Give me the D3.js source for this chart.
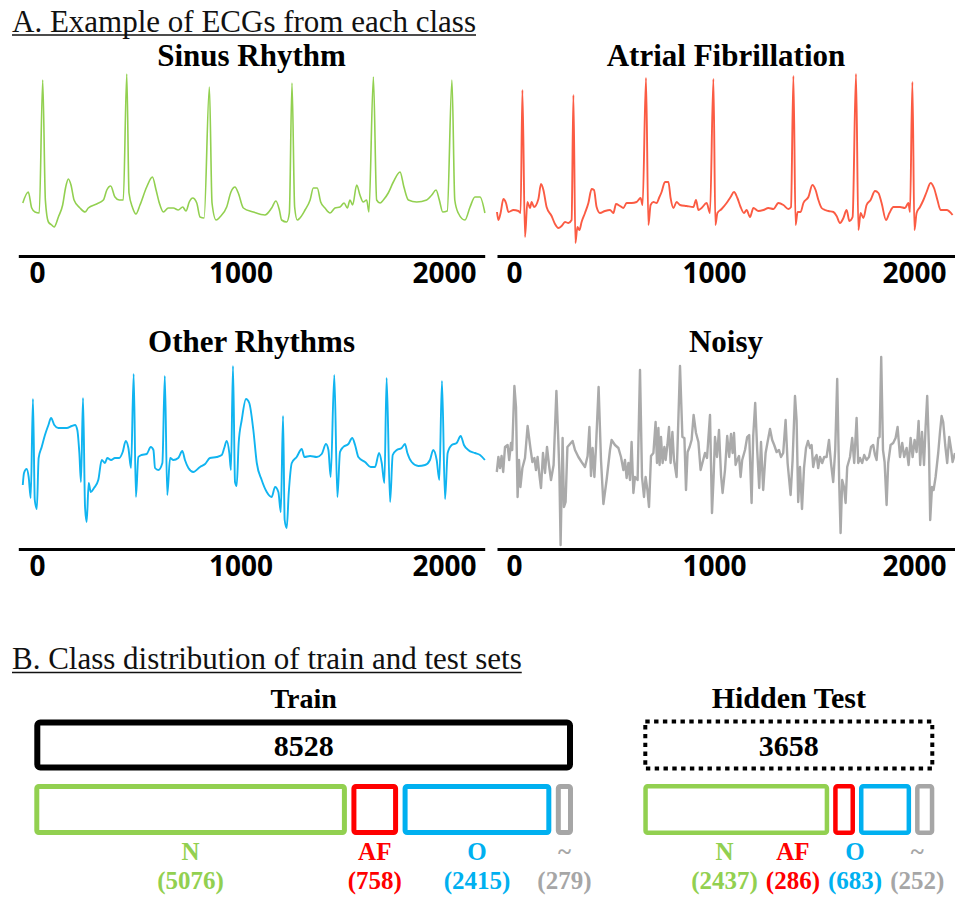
<!DOCTYPE html>
<html>
<head>
<meta charset="utf-8">
<script src="https://cdn.jsdelivr.net/npm/d3@7"></script>
<style>
  body { margin: 0; background: #fff; }
  svg { display: block; }
</style>
</head>
<body>
<svg id="chart" width="955" height="901"></svg>
<script>
// ECG example traces: [sample index, amplitude]
const sinusData = [[-70,2],[-43,13],[-26,-3],[-10,-7],[11,-8],[28,125],[41,5],[56,-17],[72,-20],[84,-22],[105,-12],[126,0],[141,18],[154,26],[167,20],[182,5],[211,-3],[236,-7],[252,-3],[293,1],[326,5],[343,15],[362,19],[383,8],[404,5],[424,5],[441,131],[452,12],[470,-3],[486,-9],[506,0],[539,18],[567,28],[585,15],[601,2],[621,-7],[645,-3],[670,-3],[694,-5],[716,-2],[732,-6],[748,3],[765,7],[785,2],[801,-12],[821,-13],[847,118],[860,2],[880,-15],[899,-12],[932,-2],[953,13],[973,18],[989,12],[1014,-3],[1063,-7],[1120,-10],[1153,-3],[1174,4],[1191,-5],[1202,-15],[1227,-17],[1240,-8],[1253,122],[1266,-2],[1279,-15],[1292,-13],[1317,-5],[1342,5],[1358,17],[1377,17],[1394,3],[1415,-3],[1440,-8],[1464,-3],[1489,-2],[1509,2],[1525,-3],[1538,5],[1551,0],[1571,20],[1587,10],[1603,3],[1620,5],[1631,-7],[1653,128],[1669,5],[1686,2],[1702,5],[1726,12],[1751,23],[1784,33],[1803,18],[1825,5],[1866,3],[1915,5],[1940,10],[1961,15],[1977,5],[1994,-7],[2016,-6],[2039,125],[2053,5],[2070,-8],[2103,-15],[2128,-2],[2152,8],[2177,8],[2201,-8]];

const afData = [[-85,-7],[-78,-15],[-67,-8],[-53,6],[-40,2],[-28,-7],[-3,-5],[22,-6],[33,-8],[42,115],[55,-32],[67,3],[80,-3],[88,3],[100,-2],[122,6],[135,21],[147,15],[163,-2],[188,-11],[205,-19],[222,-23],[238,-21],[255,-17],[272,-18],[288,-15],[297,110],[307,-38],[317,-22],[327,-25],[338,-17],[355,-8],[372,2],[388,16],[400,15],[413,-2],[430,-8],[455,-6],[480,-5],[497,-8],[510,1],[530,-1],[547,-3],[563,2],[588,2],[613,3],[633,7],[643,0],[660,127],[672,-20],[683,0],[697,3],[713,2],[727,8],[738,13],[755,23],[772,23],[783,7],[797,-3],[813,3],[830,0],[863,-1],[897,-2],[910,5],[922,-5],[938,-3],[963,2],[980,-8],[997,126],[1007,-20],[1017,-8],[1038,-4],[1063,2],[1083,8],[1100,13],[1117,7],[1133,-2],[1150,-8],[1163,-5],[1180,-12],[1197,-3],[1222,-6],[1247,-5],[1272,-3],[1297,-4],[1322,2],[1347,0],[1372,-4],[1385,-2],[1397,129],[1408,-20],[1418,-7],[1433,-7],[1447,2],[1472,8],[1492,20],[1508,15],[1522,5],[1538,-3],[1555,-5],[1572,-6],[1597,-7],[1613,-11],[1630,-18],[1647,-13],[1663,-5],[1677,-16],[1693,-12],[1710,131],[1722,-25],[1733,-8],[1747,-13],[1763,0],[1783,5],[1805,14],[1822,12],[1838,2],[1860,-15],[1877,-8],[1897,-2],[1930,-2],[1955,-3],[1972,2],[1980,-7],[1992,123],[2002,-25],[2013,-8],[2030,-2],[2047,5],[2063,13],[2083,22],[2100,17],[2117,5],[2133,-5],[2163,-5],[2193,-10]];

const otherData = [[-70,-25],[-64,-13],[-51,-9],[-41,-17],[-31,-38],[-20,61],[-11,-40],[-1,-49],[8,2],[23,13],[39,25],[56,35],[69,42],[85,35],[105,32],[146,32],[171,34],[187,35],[198,30],[208,7],[216,-22],[226,62],[236,-47],[244,-62],[254,-23],[264,-32],[280,-28],[301,-20],[318,0],[334,-3],[345,2],[364,0],[383,2],[404,2],[421,8],[436,19],[449,12],[462,-8],[475,86],[486,-37],[498,3],[514,5],[539,6],[559,13],[572,10],[580,-8],[596,-10],[616,-3],[628,84],[640,-35],[654,2],[670,0],[694,2],[714,9],[727,0],[744,-8],[768,-12],[801,-7],[826,-4],[850,2],[883,3],[908,5],[920,12],[932,19],[945,7],[953,-10],[963,94],[973,-22],[981,-26],[991,17],[1006,40],[1027,61],[1043,57],[1063,30],[1080,-3],[1104,-20],[1129,-32],[1153,-37],[1170,-27],[1186,-32],[1198,-52],[1209,44],[1217,-60],[1227,-68],[1237,-33],[1252,-3],[1276,3],[1301,11],[1314,3],[1342,4],[1375,3],[1399,6],[1420,16],[1432,10],[1443,-17],[1461,85],[1476,-37],[1489,8],[1505,13],[1530,16],[1549,22],[1563,15],[1579,3],[1612,-2],[1640,-7],[1661,-7],[1681,7],[1694,-3],[1707,-23],[1718,82],[1735,-42],[1748,5],[1768,10],[1792,12],[1808,16],[1820,7],[1841,-2],[1874,-6],[1907,-5],[1931,0],[1947,10],[1964,0],[1977,-20],[1990,79],[2005,-39],[2018,7],[2038,15],[2062,17],[2082,24],[2098,15],[2119,10],[2152,7],[2177,5],[2201,0]];

const noisyData = [[-86,-12],[-78,3],[-70,-8],[-62,4],[-54,-12],[-45,13],[-32,15],[-24,0],[-15,17],[-9,10],[2,74],[10,53],[18,-37],[25,0],[32,-27],[42,-8],[55,2],[68,34],[82,12],[92,-2],[102,2],[110,-10],[118,3],[127,-15],[135,-28],[145,7],[155,-13],[165,13],[175,-5],[185,-20],[198,-5],[212,69],[222,17],[227,-13],[233,-85],[243,22],[250,-47],[258,-42],[267,13],[280,16],[293,19],[305,10],[322,3],[338,-2],[355,-7],[368,4],[377,33],[385,-16],[393,12],[402,-17],[410,13],[423,73],[435,0],[447,-44],[463,-20],[480,10],[488,20],[505,15],[522,12],[535,3],[547,-10],[555,0],[563,-18],[572,-3],[580,-20],[588,18],[597,-33],[605,-17],[618,-20],[630,90],[640,-17],[650,-37],[658,-17],[667,-30],[675,-47],[685,4],[697,7],[708,38],[715,-3],[722,32],[728,-5],[735,23],[743,-3],[752,13],[758,0],[767,15],[775,33],[783,-3],[792,28],[800,0],[813,-17],[830,94],[842,23],[852,22],[860,-30],[868,8],[878,13],[888,20],[898,45],[910,27],[922,18],[933,-10],[942,-3],[955,7],[965,2],[980,45],[990,-53],[998,-17],[1005,23],[1015,3],[1025,30],[1035,-15],[1043,-33],[1055,-10],[1066,24],[1076,3],[1085,26],[1093,7],[1100,27],[1108,-5],[1116,0],[1125,4],[1133,-17],[1141,0],[1155,10],[1166,23],[1176,25],[1188,-43],[1196,24],[1206,57],[1216,10],[1226,-28],[1235,18],[1246,-30],[1258,7],[1268,18],[1280,31],[1291,20],[1301,15],[1313,8],[1325,10],[1335,3],[1346,7],[1358,40],[1368,-3],[1376,-20],[1383,-35],[1393,0],[1405,64],[1413,40],[1421,-42],[1430,-7],[1440,-49],[1450,-8],[1460,12],[1470,19],[1480,12],[1488,15],[1496,-7],[1505,2],[1513,5],[1521,-8],[1530,3],[1541,-3],[1551,3],[1563,3],[1575,20],[1585,-3],[1596,-22],[1606,10],[1616,81],[1626,-23],[1633,-73],[1641,-20],[1650,-27],[1658,-43],[1666,-7],[1680,3],[1691,22],[1701,-3],[1713,42],[1721,-3],[1730,2],[1741,-3],[1751,5],[1763,0],[1775,3],[1785,13],[1796,15],[1805,5],[1813,0],[1821,22],[1828,23],[1836,103],[1845,10],[1853,-2],[1863,-45],[1871,-3],[1883,15],[1896,17],[1908,22],[1918,33],[1930,3],[1941,17],[1951,3],[1963,12],[1973,-5],[1983,22],[1993,3],[2003,20],[2013,8],[2023,39],[2031,-5],[2040,28],[2050,-5],[2058,33],[2066,64],[2075,10],[2081,-60],[2090,-27],[2098,-30],[2108,-17],[2121,7],[2130,28],[2138,44],[2146,38],[2156,15],[2166,-3],[2176,23],[2186,10],[2193,-2],[2205,7]];

const tickValues = [0, 1000, 2000];

// class distribution
const classes = ["N", "AF", "O", "~"];
const classColors = ["#92d050", "#ff0000", "#00b0f0", "#a6a6a6"];
const trainCounts = [5076, 758, 2415, 279];
const testCounts = [2437, 286, 683, 252];

const svg = d3.select("#chart");
const serif = "'Liberation Serif', 'Times New Roman', serif";
const sans = "'Open Sans', 'Liberation Sans', sans-serif";

// section headings, underlined
function sectionTitle(txt, x, y) {
    const t = svg.append("text")
        .attr("x", x).attr("y", y)
        .attr("font-family", serif)
        .attr("font-size", 31)
        .attr("fill", "#111")
        .text(txt);
    const w = t.node().getComputedTextLength();
    svg.append("line")
        .attr("x1", x).attr("x2", x + w)
        .attr("y1", y + 3.5).attr("y2", y + 3.5)
        .attr("stroke", "#111")
        .attr("stroke-width", 1.6);
}
sectionTitle("A. Example of ECGs from each class", 12, 31.5);
sectionTitle("B. Class distribution of train and test sets", 12, 669);

// ---- Part A: four ECG panels ----
const columns = [
    { domain: [-92, 2200], range: [18.3, 484.7] },
    { domain: [-85, 2205], range: [497, 955] }
];
const rows = [
    { domain: [-50, 140], range: [255, 65], axisY: 256, titleY: 66 },
    { domain: [-100, 100], range: [560, 360], axisY: 549, titleY: 352 }
];
const panels = [
    { title: "Sinus Rhythm", data: sinusData, color: "#92d050", col: 0, row: 0, lw: 1.6, smooth: true },
    { title: "Atrial Fibrillation", data: afData, color: "#fb5b43", col: 1, row: 0, lw: 1.9, smooth: true },
    { title: "Other Rhythms", data: otherData, color: "#10b4f0", col: 0, row: 1, lw: 1.9, smooth: true },
    { title: "Noisy", data: noisyData, color: "#aaaaaa", col: 1, row: 1, lw: 2.4, smooth: false }
];

panels.forEach(p => {
    const c = columns[p.col], r = rows[p.row];
    const x = d3.scaleLinear().domain(c.domain).range(c.range);
    const y = d3.scaleLinear().domain(r.domain).range(r.range);

    svg.append("text")
        .attr("x", (c.range[0] + c.range[1]) / 2)
        .attr("y", r.titleY)
        .attr("text-anchor", "middle")
        .attr("font-family", serif)
        .attr("font-weight", 700)
        .attr("font-size", 31)
        .attr("fill", "#000")
        .text(p.title);

    const line = d3.line()
        .x(d => x(d[0]))
        .y(d => y(d[1]))
        .curve(p.smooth ? d3.curveMonotoneX : d3.curveLinear);

    svg.append("path")
        .datum(p.data)
        .attr("d", line)
        .attr("fill", "none")
        .attr("stroke", p.color)
        .attr("stroke-width", p.lw)
        .attr("stroke-linejoin", "round");

    const g = svg.append("g")
        .attr("transform", `translate(0,${r.axisY})`)
        .call(d3.axisBottom(x)
            .tickValues(tickValues)
            .tickFormat(d3.format("d"))
            .tickSize(0)
            .tickPadding(7));
    g.select(".domain").attr("stroke", "#000").attr("stroke-width", 3);
    g.attr("font-family", sans).attr("font-size", 28);
    g.selectAll("text").attr("font-weight", 700).attr("fill", "#000");
});

// ---- Part B: class distribution boxes ----
const sets = [
    { name: "Train", counts: trainCounts, x0: 34.3, x1: 573, titleSize: 28, dashed: false,
      gap: 4.5, boxStroke: 6, barStroke: 5, labelBound: 600 },
    { name: "Hidden Test", counts: testCounts, x0: 643.3, x1: 934.3, titleSize: 30, dashed: true,
      gap: 4, boxStroke: 4, barStroke: 4.5, labelBound: 944.3 }
];

sets.forEach(s => {
    const total = d3.sum(s.counts);
    const cx = (s.x0 + s.x1) / 2;

    svg.append("text")
        .attr("x", cx).attr("y", 708)
        .attr("text-anchor", "middle")
        .attr("font-family", serif)
        .attr("font-weight", 700)
        .attr("font-size", s.titleSize)
        .text(s.name);

    // total box
    const bs = s.boxStroke;
    svg.append("rect")
        .attr("x", s.x0 + bs / 2).attr("y", 719.5 + bs / 2)
        .attr("width", s.x1 - s.x0 - bs).attr("height", 51 - bs)
        .attr("rx", s.dashed ? 0 : 3)
        .attr("fill", "none")
        .attr("stroke", "#000")
        .attr("stroke-width", bs)
        .attr("stroke-dasharray", s.dashed ? "4.4 4.4" : null);

    svg.append("text")
        .attr("x", cx).attr("y", 756)
        .attr("text-anchor", "middle")
        .attr("font-family", serif)
        .attr("font-weight", 700)
        .attr("font-size", 30)
        .text(total);

    // class bars, widths proportional to counts
    const w = d3.scaleLinear()
        .domain([0, total])
        .range([0, s.x1 - s.x0 - s.gap * (s.counts.length - 1)]);
    let cursor = s.x0;
    const bars = s.counts.map((v, i) => {
        const b = { i, v, x: cursor, w: w(v) };
        cursor += w(v) + s.gap;
        return b;
    });

    const sw = s.barStroke;
    svg.selectAll(null)
        .data(bars)
        .enter().append("rect")
        .attr("x", d => d.x + sw / 2)
        .attr("y", 784 + sw / 2)
        .attr("width", d => Math.max(0.5, d.w - sw))
        .attr("height", 51 - sw)
        .attr("rx", 2)
        .attr("fill", "none")
        .attr("stroke", d => classColors[d.i])
        .attr("stroke-width", sw);

    // labels: start under bar centres, push left where they would collide
    const countTexts = svg.selectAll(null)
        .data(bars)
        .enter().append("text")
        .attr("y", 889)
        .attr("text-anchor", "middle")
        .attr("font-family", serif)
        .attr("font-weight", 700)
        .attr("font-size", 25)
        .attr("fill", d => classColors[d.i])
        .text(d => `(${d.v})`);
    countTexts.each(function (d) { d.tw = this.getComputedTextLength(); });

    let limit = s.labelBound;
    for (let k = bars.length - 1; k >= 0; k--) {
        const b = bars[k];
        b.lx = Math.min(b.x + b.w / 2, limit - b.tw / 2);
        limit = b.lx - b.tw / 2 - 8;
    }
    countTexts.attr("x", d => d.lx);

    svg.selectAll(null)
        .data(bars)
        .enter().append("text")
        .attr("x", d => d.lx)
        .attr("y", 860)
        .attr("text-anchor", "middle")
        .attr("font-family", serif)
        .attr("font-weight", 700)
        .attr("font-size", 25)
        .attr("fill", d => classColors[d.i])
        .text(d => classes[d.i]);
});
</script>
</body>
</html>
